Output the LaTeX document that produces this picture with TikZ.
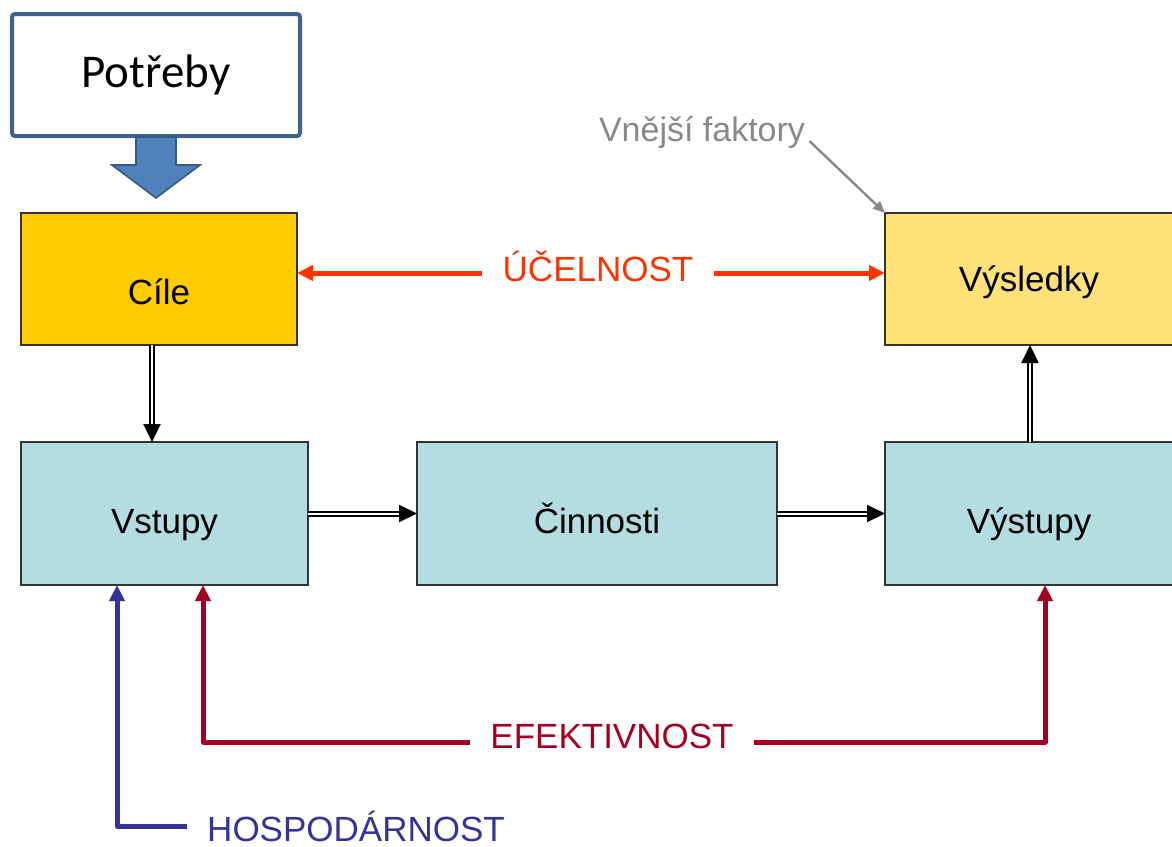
\documentclass[tikz,border=0pt]{standalone}
\usepackage{fontspec}
\setmainfont{Liberation Sans}
\newfontfamily\calibri{Carlito}
\usetikzlibrary{arrows.meta,positioning}

\definecolor{ucelcol}{HTML}{FF3300}
\definecolor{efekcol}{HTML}{A50021}
\definecolor{hospcol}{HTML}{333399}
\definecolor{cilecol}{HTML}{FFCC00}
\definecolor{vyslcol}{HTML}{FFE17A}
\definecolor{procol}{HTML}{B3DDE1}
\definecolor{potrcol}{HTML}{3E6190}
\definecolor{blockcol}{HTML}{4F81BD}
\definecolor{faktcol}{HTML}{888888}

\tikzset{
  box/.style={draw=black!80, line width=1pt, minimum height=66pt, outer sep=0pt,
    font=\fontsize{17.5}{20}\selectfont, text depth=0pt},
  flow/.style={line width=1pt, double=white, double distance=1pt,
    -{Triangle[length=9pt,width=8.5pt]}},
  measure/.style={font=\fontsize{17.5}{20}\selectfont, inner xsep=10pt, inner ysep=1pt,
    text height=12.5pt},
  feed/.style={line width=2.5pt, line join=round, -{Triangle[length=8pt,width=7.5pt]}},
}

\begin{document}
\begin{tikzpicture}[x=0.5pt,y=-0.5pt]
  \useasboundingbox (0,0) rectangle (1172,846);

  % needs
  \node[draw=potrcol, line width=2pt, rounded corners=1.5pt, fill=white, minimum width=144pt,
    minimum height=61pt, font=\calibri\fontsize{23.5}{26}\selectfont] (potreby) at (156,75) {Potřeby};
  \filldraw[fill=blockcol, draw=blockcol!70!black, line width=0.8pt]
    (136,137) -- (136,165) -- (112,165) -- (156,198) -- (200,165) -- (176,165) -- (176,137) -- cycle;

  % boxes
  \node[box, fill=cilecol, minimum width=138pt, text height=25.5pt] (cile) at (159,279) {Cíle};
  \node[box, fill=vyslcol, minimum width=144pt, text height=12.5pt] (vysledky) at (1029,279) {Výsledky};
  \node[box, fill=procol, minimum width=143.5pt, minimum height=71.5pt, text height=19.5pt] (vstupy) at (164.5,513.5) {Vstupy};
  \node[box, fill=procol, minimum width=180pt, minimum height=71.5pt, text height=19.5pt] (cinnosti) at (597,513.5) {Činnosti};
  \node[box, fill=procol, minimum width=144pt, minimum height=71.5pt, text height=19.5pt] (vystupy) at (1029,513.5) {Výstupy};

  \draw[flow] ([xshift=-3.5pt]cile.south) -- ([xshift=-6.25pt]vstupy.north);
  \draw[flow] (vstupy.east) -- (cinnosti.west);
  \draw[flow] (cinnosti.east) -- (vystupy.west);
  \draw[flow] ([xshift=0.5pt]vystupy.north) -- ([xshift=0.5pt]vysledky.south);

  % outside factors
  \node[font=\fontsize{17}{20}\selectfont, text=faktcol, inner sep=2pt] (faktory) at (702,133) {Vnější faktory};
  \draw[faktcol, line width=1.2pt, -{Triangle[length=6pt,width=5pt]}] ([yshift=-4pt]faktory.east) -- (vysledky.north west);

  % measures
  \node[measure, text=ucelcol, text depth=4.5pt] (ucel) at (598,273) {ÚČELNOST};
  \node[measure, text=efekcol, text depth=6.5pt] (efekt) at (612,742) {EFEKTIVNOST};
  \node[measure, text=hospcol, text height=15.5pt, text depth=0pt] (hosp) at (356,826) {HOSPODÁRNOST};

  \draw[feed, ucelcol] (ucel.west) -- (ucel.west -| cile.east);
  \draw[feed, ucelcol] (ucel.east) -- (ucel.east -| vysledky.west);
  \draw[feed, efekcol] (efekt.west) -| ([xshift=19.25pt]vstupy.south);
  \draw[feed, efekcol] (efekt.east) -| ([xshift=8pt]vystupy.south);
  \draw[feed, hospcol] (hosp.west) -| ([xshift=-23.75pt]vstupy.south);

\end{tikzpicture}
\end{document}
